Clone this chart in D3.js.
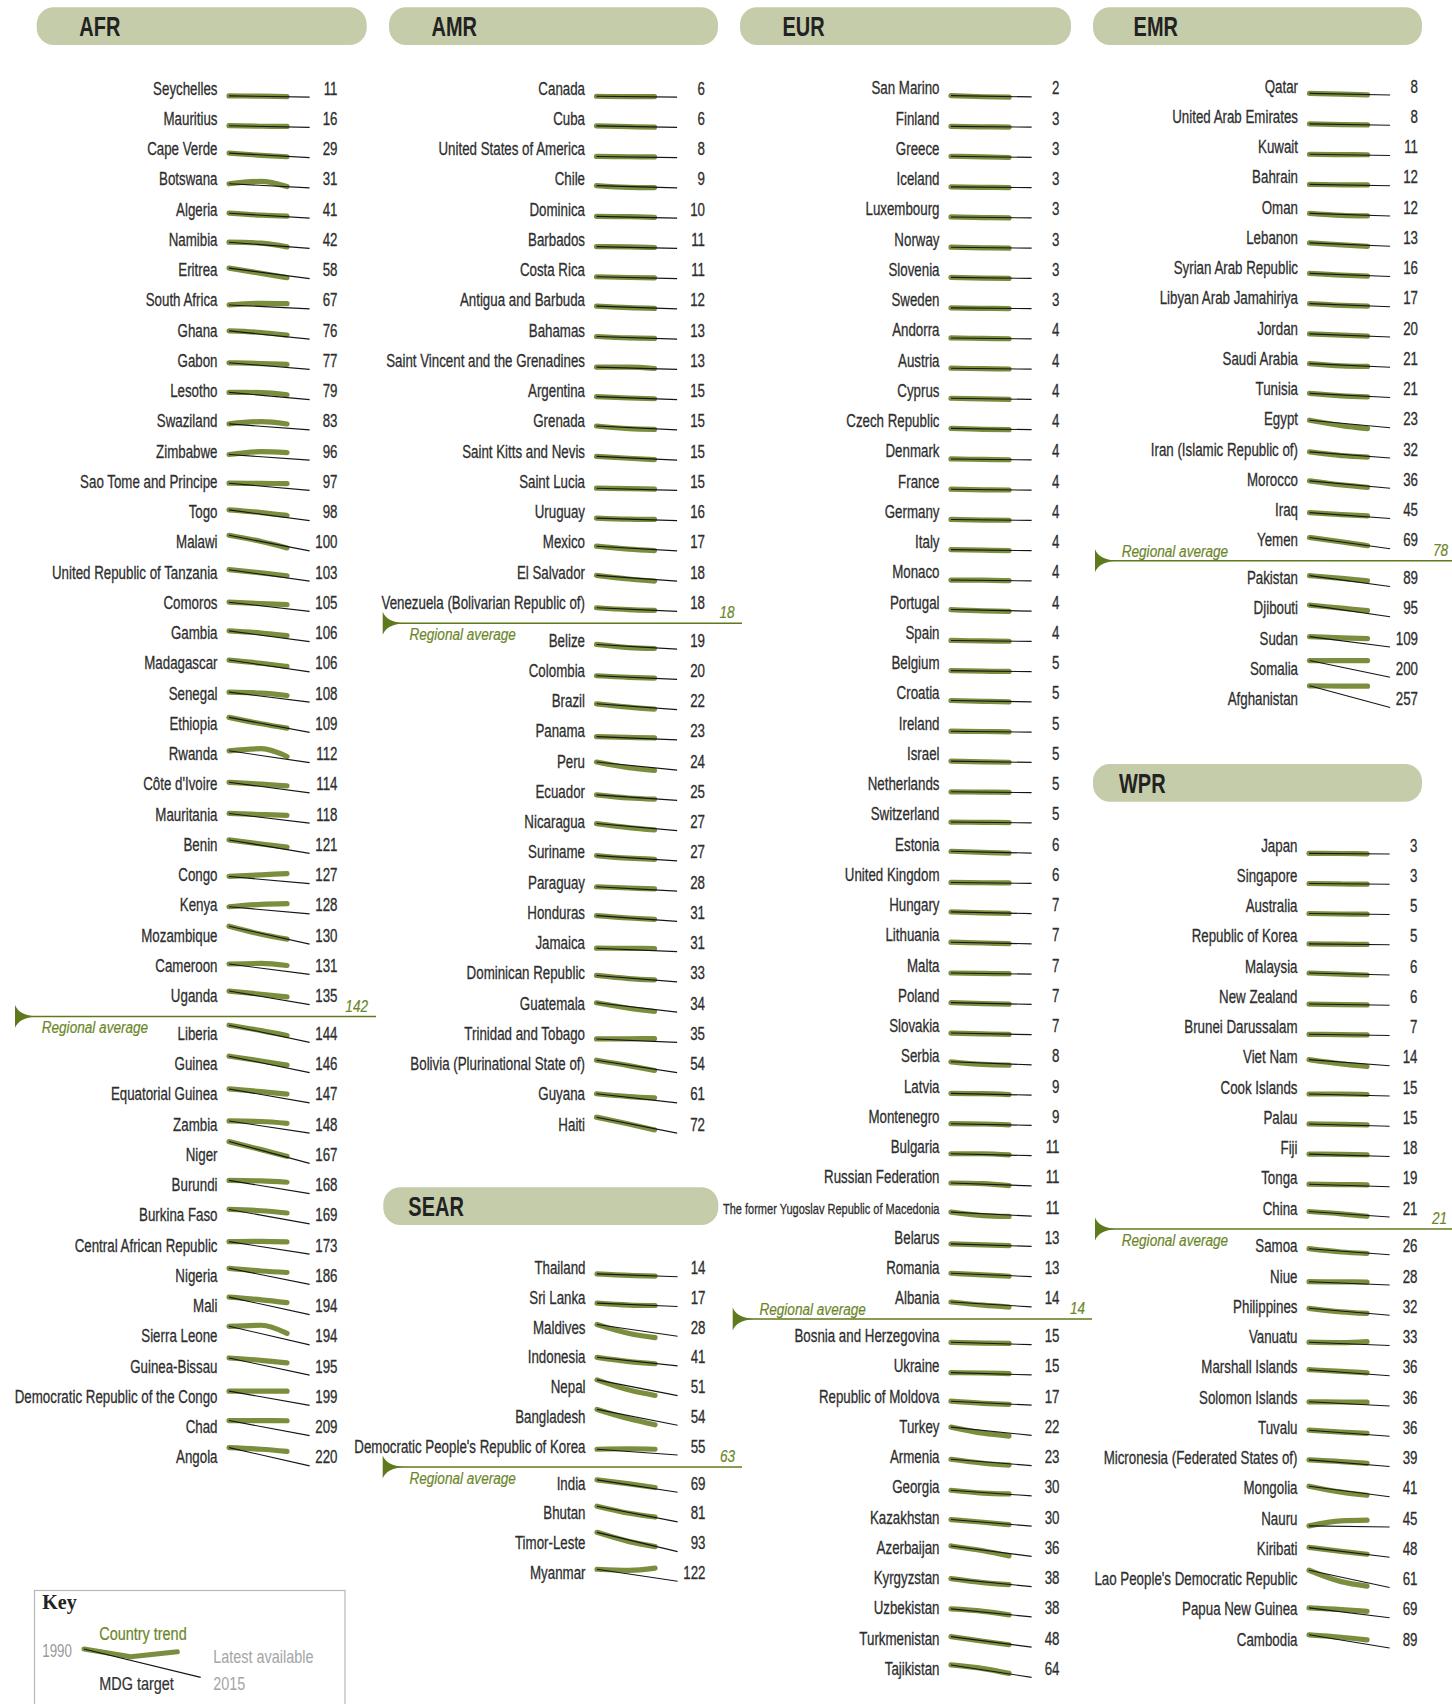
<!DOCTYPE html>
<html><head><meta charset="utf-8">
<script src="https://cdn.jsdelivr.net/npm/d3@7"></script>
<style>body{margin:0;background:#fff}svg{display:block}</style>
</head><body><svg id="c" width="1452" height="1704"></svg>
<script>
// ---------------- DATA ----------------
const trendYears = [1990, 2000, 2008];
const targetYear = 2015;

const afrCountries = ["Seychelles","Mauritius","Cape Verde","Botswana","Algeria","Namibia","Eritrea","South Africa","Ghana","Gabon","Lesotho","Swaziland","Zimbabwe","Sao Tome and Principe","Togo","Malawi","United Republic of Tanzania","Comoros","Gambia","Madagascar","Senegal","Ethiopia","Rwanda","Côte d'Ivoire","Mauritania","Benin","Congo","Kenya","Mozambique","Cameroon","Uganda","Liberia","Guinea","Equatorial Guinea","Zambia","Niger","Burundi","Burkina Faso","Central African Republic","Nigeria","Mali","Sierra Leone","Guinea-Bissau","Democratic Republic of the Congo","Chad","Angola"];
const afr1990 = [17,23,63,57,69,86,147,55,115,92,101,84,79,100,150,218,160,128,150,165,140,210,165,148,135,188,100,100,250,145,190,240,230,195,170,305,185,202,175,225,245,260,240,199,211,255];
const afr2000 = [14,18,42,80,50,78,98,70,100,85,100,105,105,98,125,160,130,114,130,135,130,150,185,130,125,150,115,122,175,150,160,190,185,170,165,230,180,190,178,200,220,270,218,199,210,240];
const afrLatest = [11,16,29,31,41,42,58,67,76,77,79,83,96,97,98,100,103,105,106,106,108,109,112,114,118,121,127,128,130,131,135,144,146,147,148,167,168,169,173,186,194,194,195,199,209,220];

const amrCountries = ["Canada","Cuba","United States of America","Chile","Dominica","Barbados","Costa Rica","Antigua and Barbuda","Bahamas","Saint Vincent and the Grenadines","Argentina","Grenada","Saint Kitts and Nevis","Saint Lucia","Uruguay","Mexico","El Salvador","Venezuela (Bolivarian Republic of)","Belize","Colombia","Brazil","Panama","Peru","Ecuador","Nicaragua","Suriname","Paraguay","Honduras","Jamaica","Dominican Republic","Guatemala","Trinidad and Tobago","Bolivia (Plurinational State of)","Guyana","Haiti"];
const amr1990 = [8,14,11,22,17,17,18,26,25,22,29,37,36,21,24,45,55,35,45,35,56,31,78,53,68,51,42,55,33,62,90,33,120,88,154];
const amr2000 = [6,9,9,11,15,15,13,16,16,22,20,20,24,18,17,26,32,23,25,25,35,26,41,33,42,34,34,40,32,42,55,34,85,70,110];
const amrLatest = [6,6,8,9,10,11,11,12,13,13,15,15,15,15,16,17,18,18,19,20,22,23,24,25,27,27,28,31,31,33,34,35,54,61,72];

const eurCountries = ["San Marino","Finland","Greece","Iceland","Luxembourg","Norway","Slovenia","Sweden","Andorra","Austria","Cyprus","Czech Republic","Denmark","France","Germany","Italy","Monaco","Portugal","Spain","Belgium","Croatia","Ireland","Israel","Netherlands","Switzerland","Estonia","United Kingdom","Hungary","Lithuania","Malta","Poland","Slovakia","Serbia","Latvia","Montenegro","Bulgaria","Russian Federation","The former Yugoslav Republic of Macedonia","Belarus","Romania","Albania","Bosnia and Herzegovina","Ukraine","Republic of Moldova","Turkey","Armenia","Georgia","Kazakhstan","Azerbaijan","Kyrgyzstan","Uzbekistan","Turkmenistan","Tajikistan"];
const eur1990 = [12,7,11,7,9,9,10,7,9,9,11,12,9,9,9,10,8,15,9,10,13,9,12,8,8,18,9,17,16,11,17,15,29,17,16,18,27,38,24,32,46,22,21,37,78,60,53,62,98,75,75,99,117];
const eur2000 = [5,4,7,4,5,5,5,4,6,6,7,6,6,5,5,6,7,7,6,6,8,7,7,6,6,11,7,10,11,8,10,10,13,15,14,18,23,16,17,22,26,17,19,24,40,35,35,45,68,50,60,70,94];
const eurLatest = [2,3,3,3,3,3,3,3,4,4,4,4,4,4,4,4,4,4,4,5,5,5,5,5,5,6,6,7,7,7,7,7,8,9,9,11,11,11,13,13,14,15,15,17,22,23,30,30,36,38,38,48,64];

const emrCountries = ["Qatar","United Arab Emirates","Kuwait","Bahrain","Oman","Lebanon","Syrian Arab Republic","Libyan Arab Jamahiriya","Jordan","Saudi Arabia","Tunisia","Egypt","Iran (Islamic Republic of)","Morocco","Iraq","Yemen","Pakistan","Djibouti","Sudan","Somalia","Afghanistan"];
const emr1990 = [20,17,15,16,32,40,37,38,38,43,50,90,73,89,70,135,130,140,125,200,260];
const emr2000 = [14,11,12,13,16,24,23,24,27,25,30,47,44,56,55,100,108,115,115,200,258];
const emrLatest = [8,8,11,12,12,13,16,17,20,21,21,23,32,36,45,69,89,95,109,200,257];

const wprCountries = ["Japan","Singapore","Australia","Republic of Korea","Malaysia","New Zealand","Brunei Darussalam","Viet Nam","Cook Islands","Palau","Fiji","Tonga","China","Samoa","Niue","Philippines","Vanuatu","Marshall Islands","Solomon Islands","Tuvalu","Micronesia (Federated States of)","Mongolia","Nauru","Kiribati","Lao People's Democratic Republic","Papua New Guinea","Cambodia"];
const wpr1990 = [6,7,9,8,18,11,11,56,18,21,22,23,50,55,30,63,30,55,38,55,60,96,10,90,157,90,120];
const wpr2000 = [5,4,6,6,11,7,9,30,18,18,20,21,36,35,29,42,27,45,37,43,50,60,40,66,88,80,105];
const wprLatest = [3,3,5,5,6,6,7,14,15,15,18,19,21,26,28,32,33,36,36,36,39,41,45,48,61,69,89];

const searCountries = ["Thailand","Sri Lanka","Maldives","Indonesia","Nepal","Bangladesh","Democratic People's Republic of Korea","India","Bhutan","Timor-Leste","Myanmar"];
const sear1990 = [28,32,112,82,150,152,55,118,150,184,115];
const sear2000 = [18,20,55,55,85,92,58,92,105,125,108];
const searLatest = [14,17,28,41,51,54,55,69,81,93,122];

const regionNames = ["AFR","AMR","EUR","EMR","WPR","SEAR"];
const regionalAverages = [142, 18, 14, 78, 21, 63];
const avgAfterIndex = [30, 17, 40, 15, 12, 6];

const keyLabels = {title:"Key", start:"1990", trend:"Country trend", latest:"Latest available", target:"MDG target", end:"2015"};
const keyTrend = [[1990, 0], [2000, 0.55], [2010, 0.2]];

// ---------------- LAYOUT / STYLE ----------------
const FONT = "'Liberation Sans', Arial, sans-serif";
const GREEN = "#7b8e3d", OLIVE = "#5f7a1d", AVGTXT = "#6b8628", HEAD = "#c5cca9", TXT = "#2e2e2e";
const GAP = 7.5;

const layouts = {
  AFR:  {hx:36.7, hy:7.3, hw:330, tx:79.3, labelRight:217.5, y0:94.6, pitch:30.25, k:0.107, ax:15, lineEnd:376, valRight:368, above:false},
  AMR:  {hx:389, hy:7.3, hw:329, tx:431.5, labelRight:585, y0:94.6, pitch:30.25, k:0.155, ax:382.7, lineEnd:742, valRight:734.5, above:false},
  EUR:  {hx:740, hy:7.3, hw:331, tx:782.5, labelRight:939.5, y0:94.4, pitch:30.25, k:0.16, ax:732.7, lineEnd:1092, valRight:1085, above:true},
  EMR:  {hx:1093, hy:7.3, hw:329, tx:1133.6, labelRight:1298, y0:92.5, pitch:30.25, k:0.125, ax:1095, lineEnd:1452, valRight:1448, above:true},
  WPR:  {hx:1093, hy:764, hw:329, tx:1119, labelRight:1297.5, y0:851.5, pitch:30.25, k:0.165, ax:1095, lineEnd:1452, valRight:1447, above:false},
  SEAR: {hx:383.3, hy:1187.3, hw:335, tx:408.3, labelRight:585.5, y0:1274.3, pitch:29.7, k:0.157, ax:382.7, lineEnd:742, valRight:735, above:false}
};
const regionData = {
  AFR:[afrCountries, afr1990, afr2000, afrLatest],
  AMR:[amrCountries, amr1990, amr2000, amrLatest],
  EUR:[eurCountries, eur1990, eur2000, eurLatest],
  EMR:[emrCountries, emr1990, emr2000, emrLatest],
  WPR:[wprCountries, wpr1990, wpr2000, wprLatest],
  SEAR:[searCountries, sear1990, sear2000, searLatest]
};
const smallLabels = new Set(["The former Yugoslav Republic of Macedonia"]);

const svg = d3.select("#c");

function txt(g, x, y, s, o = {}) {
  const sx = o.sx ?? 0.72;
  const t = g.append("text")
    .attr("transform", `translate(${x},${y}) scale(${sx},1)`)
    .attr("text-anchor", o.anchor || "start")
    .attr("font-family", o.family || FONT)
    .attr("font-size", o.size || 18.5)
    .attr("font-weight", o.weight || "normal")
    .attr("font-style", o.style || "normal")
    .attr("fill", o.fill || TXT)
    .text(s);
  if (o.thick) t.attr("stroke", o.fill || TXT).attr("stroke-width", o.thick);
  return t;
}

regionNames.forEach((code, ri) => {
  const L = layouts[code];
  const [names, v90, v00, vLast] = regionData[code];
  const g = svg.append("g");

  // header
  g.append("rect").attr("x", L.hx).attr("y", L.hy).attr("width", L.hw).attr("height", 37.7)
    .attr("rx", 17).attr("ry", 17).attr("fill", HEAD);
  txt(g, L.tx, L.hy + 28.7, code, {size:27, weight:"bold", sx:0.74, fill:"#222"});

  const x = d3.scaleLinear().domain([1990, targetYear]).range([L.labelRight + 11.5, L.labelRight + 92.1]);
  const after = avgAfterIndex[ri];
  const baseY = i => L.y0 + i * L.pitch + (i > after ? GAP : 0);

  names.forEach((name, i) => {
    const base = baseY(i);
    const target = v90[i] / 3;
    const y = d3.scaleLinear().domain([target, target + 100]).range([base + 2.5, base + 2.5 - 100 * L.k]);
    const trend = [v90[i], v00[i], vLast[i]].map((v, j) => [trendYears[j], v]);
    const gl = d3.line().x(d => x(d[0])).y(d => y(d[1])).curve(d3.curveMonotoneX);
    g.append("path").attr("d", gl(trend)).attr("fill", "none").attr("stroke", GREEN)
      .attr("stroke-width", 5.2).attr("stroke-linecap", "round").attr("stroke-linejoin", "round");
    const bl = d3.line().x(d => x(d[0])).y(d => y(d[1]));
    g.append("path").attr("d", bl([[1990, v90[i]], [targetYear, target]])).attr("fill", "none")
      .attr("stroke", "#151515").attr("stroke-width", 1.1);
    txt(g, L.labelRight, base, name, {anchor:"end", size: smallLabels.has(name) ? 15.3 : 18.5, thick:0.3});
    txt(g, L.labelRight + 120, base, vLast[i], {anchor:"end", thick:0.3});
  });

  // regional average
  const ly = baseY(after) + 14.5;
  const ax = L.ax;
  g.append("line").attr("x1", ax + 10).attr("x2", L.lineEnd).attr("y1", ly).attr("y2", ly)
    .attr("stroke", OLIVE).attr("stroke-width", 1.5);
  g.append("path")
    .attr("d", `M${ax},${ly - 11.5} L${ax},${ly + 11.5} Q${ax + 4},${ly + 1.2} ${ax + 21},${ly} Q${ax + 4},${ly - 1.2} ${ax},${ly - 11.5} Z`)
    .attr("fill", OLIVE);
  txt(g, ax + 26.7, L.above ? ly - 4 : ly + 16.5, "Regional average", {size:17, style:"italic", fill:AVGTXT, sx:0.8, thick:0.2});
  txt(g, L.valRight, ly - 5, regionalAverages[ri], {size:17, style:"italic", fill:AVGTXT, sx:0.8, anchor:"end", thick:0.2});
});

// ---------------- KEY ----------------
const kg = svg.append("g");
kg.append("rect").attr("x", 34.5).attr("y", 1590.5).attr("width", 310.5).attr("height", 140)
  .attr("fill", "none").attr("stroke", "#b8b8b8").attr("stroke-width", 1.2);
txt(kg, 42.3, 1608.5, keyLabels.title, {family:"'Liberation Serif', 'Times New Roman', serif", size:20, weight:"bold", sx:1, fill:"#222"});
const kx = d3.scaleLinear().domain([1990, 2015]).range([84, 200.7]);
const ky = d3.scaleLinear().domain([0, 1]).range([1649, 1663]);
kg.append("path").attr("d", d3.line().x(d => kx(d[0])).y(d => ky(d[1]))(keyTrend))
  .attr("fill", "none").attr("stroke", GREEN).attr("stroke-width", 5)
  .attr("stroke-linecap", "round").attr("stroke-linejoin", "round");
kg.append("path").attr("d", d3.line()([[kx(1990), ky(0)], [kx(2015), 1677.3]]))
  .attr("stroke", "#151515").attr("stroke-width", 1.2).attr("fill", "none");
txt(kg, 42.3, 1656.5, keyLabels.start, {fill:"#9a9a9a"});
txt(kg, 99.3, 1640, keyLabels.trend, {fill:AVGTXT, sx:0.78, thick:0.2});
txt(kg, 99.3, 1690, keyLabels.target, {fill:"#333", sx:0.78, thick:0.2});
txt(kg, 213.3, 1662.5, keyLabels.latest, {fill:"#a5a5a5", sx:0.78});
txt(kg, 213.3, 1690, keyLabels.end, {fill:"#a5a5a5", sx:0.78});
</script>
</body></html>
